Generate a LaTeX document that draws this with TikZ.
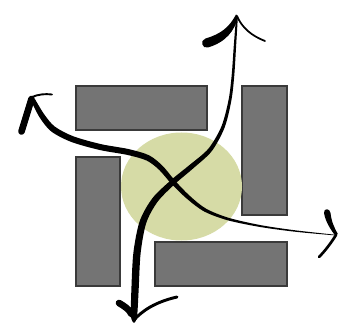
\documentclass[tikz,border=0pt]{standalone}
\usetikzlibrary{calc}
\definecolor{blockgray}{RGB}{116,116,116}
\definecolor{blockedge}{RGB}{58,58,58}
\definecolor{blobgreen}{RGB}{214,219,166}
\tikzset{
  block/.style={fill=blockgray, draw=blockedge, line width=0.8pt},
  blob/.style={fill=blobgreen},
  ink/.style={fill=black},
  inkline/.style={draw=black, line cap=round, line join=round},
}
\begin{document}
\begin{tikzpicture}[x=0.75pt,y=-0.75pt]
\useasboundingbox (0,0) rectangle (338,331);
% blocks
\draw[block] (76,86) rectangle (207,130);
\draw[block] (242,86) rectangle (287,215);
\draw[block] (76,157) rectangle (120,286);
\draw[block] (155,242) rectangle (287,286);
% central blob
\fill[blob] (181.5,186.5) ellipse [x radius=60.5, y radius=54];
% curve A (top to bottom)
\fill[ink] plot[smooth] coordinates {(236.1,16) (233.83,44.92) (231.7,74.88) (228.6,99.73) (221.43,126.38) (208.37,148.71) (189.39,165.13) (171.14,179.98) (152.5,198.13) (139.79,220.92) (133.4,252.56) (131.36,289.82) (130.88,316) (133.3,322.5)}
  -- plot[smooth] coordinates {(134.7,322.5) (137.12,316) (138.64,290.18) (140.6,253.44) (146.21,223.08) (157.5,201.87) (174.86,184.02) (192.61,168.87) (211.63,151.29) (224.57,127.62) (231.4,100.27) (234.3,75.12) (236.17,45.08) (237.9,16)} -- cycle;
% curve B (left to right)
\fill[ink] plot[smooth] coordinates {(34.92,99.03) (44.27,114.43) (54.84,126.62) (73.08,136.2) (100.7,144.08) (128.66,149.08) (149.27,155.41) (162.82,166.1) (174.75,180.37) (189.34,195.46) (205.8,208.52) (228.37,217.73) (260.17,225.06) (295.08,230.29) (334,234.6)}
  -- plot[smooth] coordinates {(334,235.3) (294.92,231.71) (259.83,226.94) (227.63,220.27) (204.2,211.48) (186.66,198.54) (171.25,183.63) (159.18,169.9) (146.73,160.59) (127.34,154.92) (99.3,149.92) (70.92,141.8) (51.16,131.38) (39.73,117.57) (31.08,100.97)} -- cycle;
% top arrowhead
\fill[ink] (238.2,16.5) .. controls (234.5,31) and (226,42) .. (208,47.5) .. controls (202,49) and (199.5,40.5) .. (205.5,38.5) .. controls (221,34) and (229.5,27) .. (236,14.5) -- cycle;
\draw[inkline, line width=1.3pt] (237,16) .. controls (242,28) and (252,36) .. (265,41);
% left arrowhead
\draw[inkline, line width=5pt] (31.5,99) -- (21.5,131.5);
\draw[inkline, line width=1.4pt] (32,97) .. controls (38,94.5) and (45,93.5) .. (52,94.5);
% right arrowhead
\fill[ink] (324,213) .. controls (323.5,208) and (330,208) .. (330.5,213) .. controls (331.5,222) and (334.5,228) .. (337.8,234) -- (335.3,235.8) .. controls (331,230) and (325.5,222) .. (324,213) -- cycle;
\draw[inkline, line width=2pt] (336,235) .. controls (331,243) and (325,251) .. (319,257);
% bottom arrowhead
\draw[inkline, line width=5pt] (119,303) .. controls (124,306) and (129,309) .. (131.5,314);
\draw[inkline, line width=2.2pt] (134,320) .. controls (142,311) and (155,302) .. (177,297);
\end{tikzpicture}
\end{document}
